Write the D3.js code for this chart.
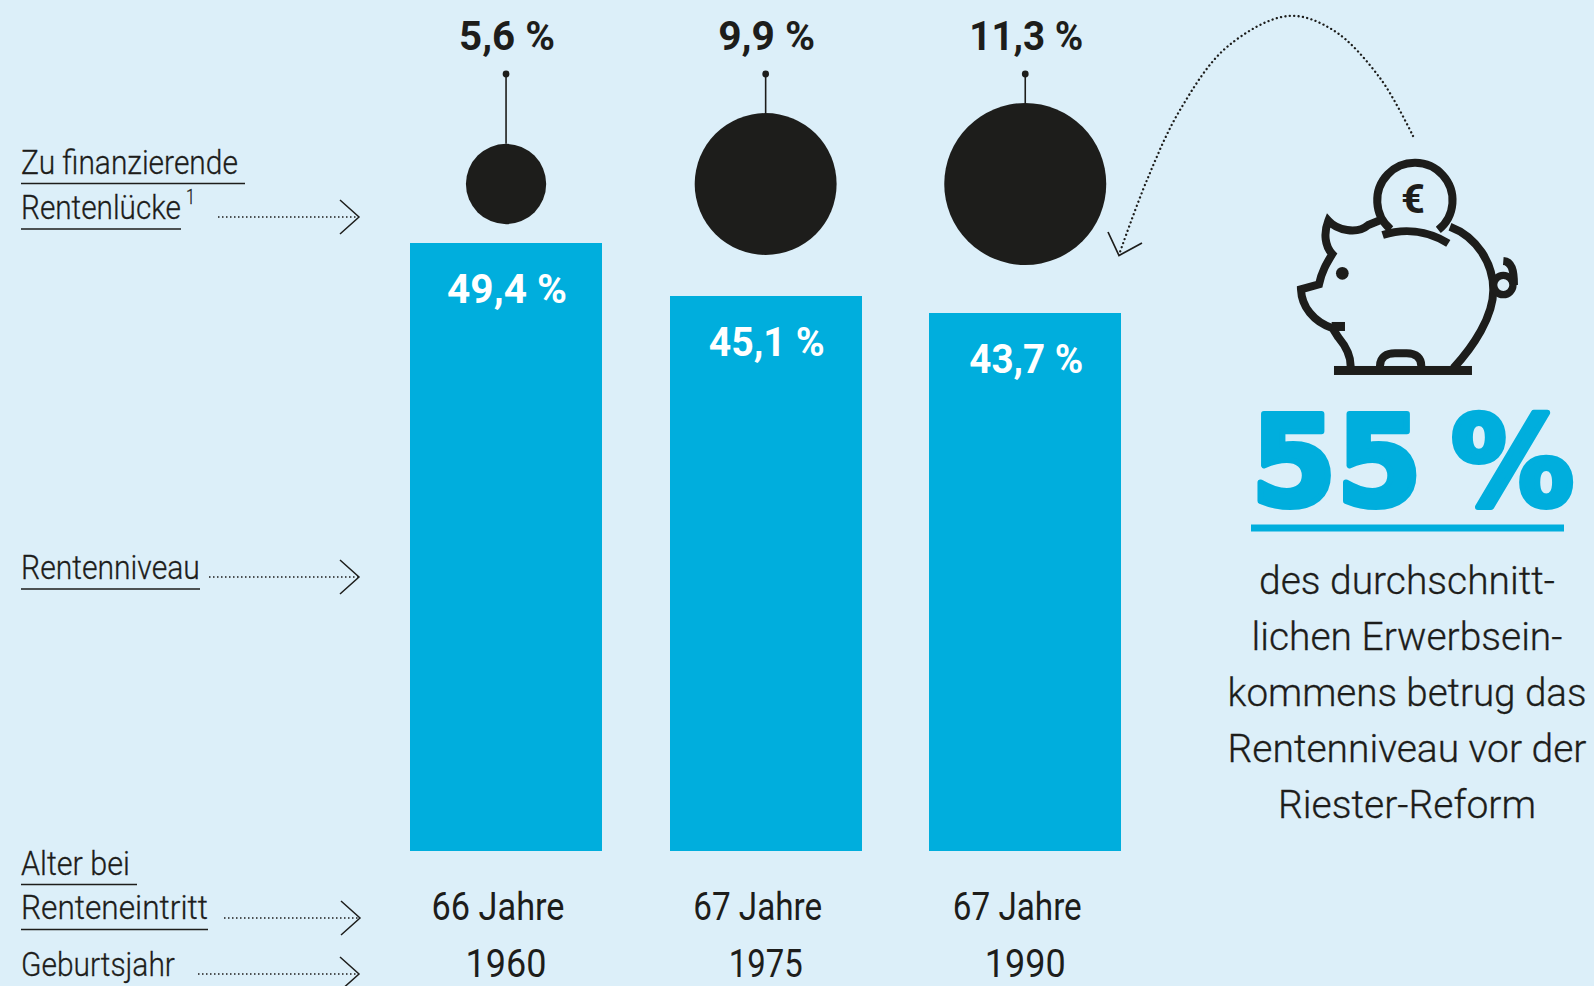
<!DOCTYPE html>
<html>
<head>
  <meta charset="utf-8">
  <title>Rentenniveau und Rentenlücke</title>
  <script src="https://cdn.jsdelivr.net/npm/d3@7"></script>
  <style>
    html, body { margin: 0; background: #dceff9; overflow: hidden; }
    svg { display: block; }
    text { font-family: Roboto, sans-serif; fill: #1d1d1b; }
  </style>
</head>
<body>
  <script>
    // values
    var birthYears = ["1960", "1975", "1990"];
    var ageLabels = ["66 Jahre", "67 Jahre", "67 Jahre"];
    var pensionLevel = [49.4, 45.1, 43.7];
    var pensionGap = [5.6, 9.9, 11.3];
    var noteLines = ["des durchschnitt-", "lichen Erwerbsein-", "kommens betrug das", "Rentenniveau vor der", "Riester-Reform"];

    // measured text widths
    var noteWidths = [296, 311, 359, 359, 258];
    var ageWidths = [133, 129, 129];
    var yearWidths = [81, 74, 81];
    var levelWidths = [120, 116, 114];
    var gapWidths = [96, 97, 114];

    var dark = "#1d1d1b", blue = "#00aedd";
    var width = 1594, height = 986;

    var svg = d3.select("body").append("svg")
        .attr("width", width)
        .attr("height", height);

    svg.append("rect").attr("width", width).attr("height", height).attr("fill", "#dceff9");

    var x = d3.scaleBand().domain(birthYears).range([410, 1121.3]).paddingInner(0.26).paddingOuter(0);
    var y = d3.scaleLinear().domain([0, 49.4]).range([851, 243]);
    var r = d3.scaleLinear().domain([0, 11.3]).range([0, 81]);
    var pct = function(v) { return v.toFixed(1).replace(".", ",") + " %"; };
    var cx = function(i) { return x(birthYears[i]) + x.bandwidth() / 2; };
    var circleY = 184, stemTop = 74;

    // text scaled sideways to a measured width, the original face is a narrow one
    function label(txt, px, py, size, w, anchor, weight, family) {
      var t = svg.append("text")
          .attr("text-anchor", anchor || "start")
          .attr("font-size", size)
          .attr("font-weight", weight || 300)
          .style("font-family", family || null)
          .text(txt);
      if (!weight) t.attr("stroke", dark).attr("stroke-width", 0.3);
      var k = w / t.node().getComputedTextLength();
      return t.attr("transform", "translate(" + px + "," + py + ") scale(" + k + ",1)");
    }

    // bars
    svg.selectAll(".bar").data(pensionLevel).enter().append("rect")
        .attr("class", "bar")
        .attr("x", function(d, i) { return x(birthYears[i]); })
        .attr("y", function(d) { return y(d); })
        .attr("width", x.bandwidth())
        .attr("height", function(d) { return y(0) - y(d); })
        .attr("fill", blue)
        .attr("shape-rendering", "crispEdges");

    pensionLevel.forEach(function(d, i) {
      label(pct(d), cx(i) + 1, y(d) + 60, 41, levelWidths[i], "middle", 700).style("fill", "#fff");
    });

    // gap circles with stems
    svg.selectAll(".stem").data(pensionGap).enter().append("line")
        .attr("class", "stem")
        .attr("x1", function(d, i) { return cx(i); })
        .attr("x2", function(d, i) { return cx(i); })
        .attr("y1", stemTop)
        .attr("y2", function(d) { return circleY - r(d); })
        .attr("stroke", dark)
        .attr("stroke-width", 1.6);

    svg.selectAll(".stemdot").data(pensionGap).enter().append("circle")
        .attr("class", "stemdot")
        .attr("cx", function(d, i) { return cx(i); })
        .attr("cy", stemTop)
        .attr("r", 3.4)
        .attr("fill", dark);

    svg.selectAll(".gap").data(pensionGap).enter().append("circle")
        .attr("class", "gap")
        .attr("cx", function(d, i) { return cx(i); })
        .attr("cy", circleY)
        .attr("r", function(d) { return r(d); })
        .attr("fill", dark);

    pensionGap.forEach(function(d, i) {
      label(pct(d), cx(i) + 1, 50, 41, gapWidths[i], "middle", 700);
    });

    // age and birth year rows
    ageLabels.forEach(function(d, i) {
      label(d, cx(i) - 8, 920, 38, ageWidths[i], "middle", 400);
    });
    birthYears.forEach(function(d, i) {
      label(d, cx(i), 977, 38, yearWidths[i], "middle", 400);
    });

    // left side labels
    function rule(x1, x2, yy) {
      svg.append("line").attr("x1", x1).attr("x2", x2).attr("y1", yy).attr("y2", yy)
          .attr("stroke", dark).attr("stroke-width", 1.6);
    }
    function pointer(x1, x2, yy) {
      svg.append("line").attr("x1", x1).attr("x2", x2).attr("y1", yy).attr("y2", yy)
          .attr("stroke", dark).attr("stroke-width", 1.4).attr("stroke-dasharray", "1.5 2.5");
      svg.append("path")
          .attr("d", "M" + (x2 - 19) + " " + (yy - 17) + "L" + x2 + " " + yy + "L" + (x2 - 19) + " " + (yy + 17))
          .attr("fill", "none").attr("stroke", dark).attr("stroke-width", 1.5);
    }

    label("Zu finanzierende", 21, 174, 33, 217);
    rule(21, 245, 183.5);
    label("Rentenlücke", 21, 219, 33, 160);
    label("1", 186, 204, 20, 9);
    rule(21, 181, 229);
    pointer(218, 359, 217);

    label("Rentenniveau", 21, 579, 33, 179);
    rule(21, 200, 589);
    pointer(209, 359, 577);

    label("Alter bei", 21, 875, 33, 109);
    rule(21, 137, 884.5);
    label("Renteneintritt", 21, 919, 33, 187);
    rule(21, 208, 929.5);
    pointer(224, 360, 918);

    label("Geburtsjahr", 21, 976, 33, 154);
    pointer(198, 359, 974);

    // curved arrow from the piggy bank to the last circle
    var arcPoints = [[1413, 136], [1380, 78], [1333, 30], [1288, 16], [1227, 47], [1180, 110], [1147, 180], [1120, 252]];
    svg.append("path")
        .attr("d", d3.line().curve(d3.curveCatmullRom)(arcPoints))
        .attr("fill", "none")
        .attr("stroke", dark)
        .attr("stroke-width", 2.3)
        .attr("stroke-linecap", "round")
        .attr("stroke-dasharray", "0.1 4.3");
    svg.append("path")
        .attr("d", "M1108 232L1119 255.5L1142 243")
        .attr("fill", "none").attr("stroke", dark).attr("stroke-width", 1.7);

    // piggy bank, traced in a 3x grid
    var pig = svg.append("g").attr("transform", "translate(1200,130) scale(0.3333)")
        .attr("fill", "none").attr("stroke", dark).attr("stroke-width", 24);
    var pigPaths = [
      "M452 708C452 670 430 640 415 622L398 595C340 575 305 530 303 478L357 463C365 425 380 400 397 372C375 350 370 310 385 272C410 300 470 315 505 285L542 270",
      "M572 298A113 113 0 1 1 715 300",
      "M548 315C610 295 680 300 745 340",
      "M750 290C830 320 880 400 880 480C880 560 820 650 760 715",
      "M540 708C540 680 560 670 585 670L620 670C650 670 664 685 664 708",
      "M910 393C935 395 942 420 942 465"
    ];
    pig.selectAll("path").data(pigPaths).enter().append("path").attr("d", function(d) { return d; });
    pig.append("circle").attr("cx", 910).attr("cy", 465).attr("r", 29).attr("stroke-width", 22);
    pig.append("rect").attr("x", 395).attr("y", 576).attr("width", 40).attr("height", 27).attr("fill", dark).attr("stroke", "none");
    pig.append("rect").attr("x", 402).attr("y", 708).attr("width", 414).attr("height", 27).attr("fill", dark).attr("stroke", "none");
    pig.append("circle").attr("cx", 427).attr("cy", 430).attr("r", 19).attr("fill", dark).attr("stroke", "none");
    label("€", 1413, 213, 41, 24, "middle", 700);

    // big number and note, width is taken before the word spacing closes the gap
    label("55 %", 1251, 505, 124, 337, "start", 700, "'DejaVu Sans'")
        .style("fill", blue)
        .style("word-spacing", "-14px")
        .attr("stroke", blue)
        .attr("stroke-width", 6)
        .attr("stroke-linejoin", "round");
    svg.append("rect").attr("x", 1251).attr("y", 524.5).attr("width", 313).attr("height", 7).attr("fill", blue);

    noteLines.forEach(function(d, i) {
      label(d, 1407, 594 + i * 56, 39, noteWidths[i], "middle");
    });
  </script>
</body>
</html>
